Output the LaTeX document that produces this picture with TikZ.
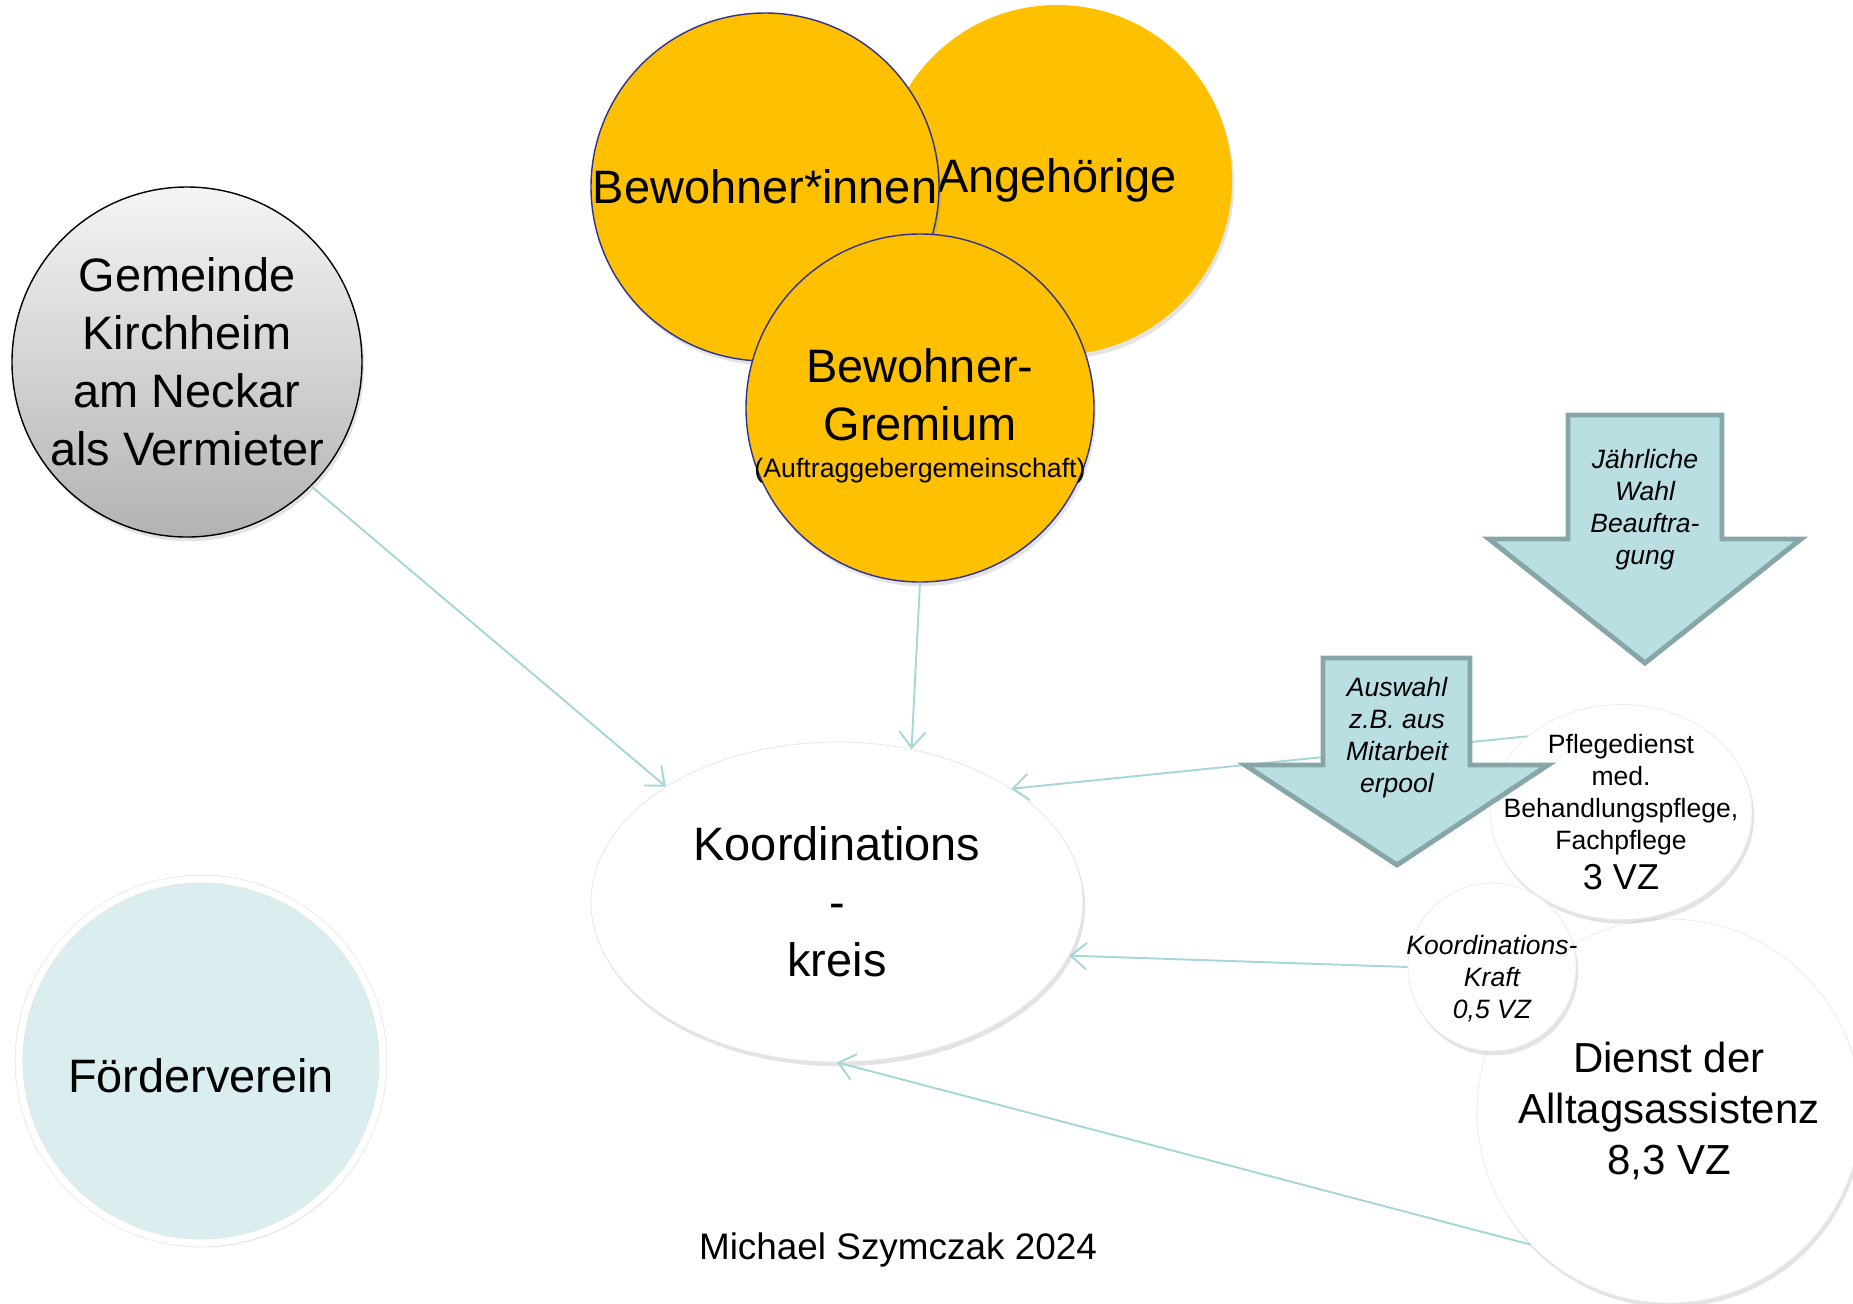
\documentclass[tikz,border=0pt]{standalone}
\usepackage{fontspec}
\setmainfont{Liberation Sans}
\usetikzlibrary{shapes.geometric,shadows,arrows.meta}

\definecolor{gold}{HTML}{FFC000}
\definecolor{navy}{HTML}{2E3192}
\definecolor{linkcol}{HTML}{A6D6DA}
\definecolor{pfeilfill}{HTML}{B9DFE2}
\definecolor{pfeilrand}{HTML}{87A6A8}
\definecolor{foerderfill}{HTML}{DAEDEF}

\begin{document}
\begin{tikzpicture}[
  every node/.style={align=center},
  rund/.style={circle,inner sep=0pt},
  schatten/.style={drop shadow={opacity=0.22,shadow xshift=1.2pt,shadow yshift=-2.4pt}},
  goldkreis/.style={rund,fill=gold,draw=navy,line width=0.8pt,schatten},
  weiss/.style={fill=white,draw=black!8,line width=0.4pt,schatten},
  gross/.style={font=\fontsize{26.7}{33}\selectfont},
  klein/.style={font=\fontsize{15.1}{18.2}\selectfont,inner sep=0pt},
  kursiv/.style={font=\fontsize{15.1}{18.2}\selectfont\itshape,inner sep=0pt},
  link/.style={draw=linkcol,line width=1.1pt,-{Straight Barb[length=9pt,width=15pt]}},
  pfeil/.style={fill=pfeilfill,draw=pfeilrand,line width=2.8pt,line join=miter}
  ]

  \useasboundingbox (0,0) rectangle (37.06,-26.06);

  % linke Seite
  \node[rund,draw=black,line width=0.8pt,top color=black!4,bottom color=black!30,
        minimum size=7cm,gross,schatten] (gemeinde) at (3.74,-7.24)
        {Gemeinde\\Kirchheim\\am Neckar\\als Vermieter};
  \node[rund,fill=foerderfill,draw=black!10,line width=0.4pt,double=white,double distance=4pt,
        minimum size=7.28cm,gross,schatten,text height=1.24cm,text depth=0pt] (foerder)
        at (4.02,-21.22) {Förderverein};

  % Bewohner oben
  \node[goldkreis,draw=none,minimum size=7cm,gross] (angeh) at (21.14,-3.6) {Angehörige};
  \node[goldkreis,minimum size=6.96cm,gross] (bewohner) at (15.3,-3.74) {Bewohner*innen};
  \node[goldkreis,minimum size=6.96cm] (gremium) at (18.4,-8.16) {};
  \node[gross,inner sep=0pt] (gremiumtxt) at ([yshift=-0.16cm]gremium)
        {Bewohner-\\Gremium\\[-11.7pt]{\fontsize{15.2}{18}\selectfont(Auftraggebergemeinschaft)}};

  % Mitte
  \node[ellipse,weiss,draw=black!10,minimum width=9.84cm,minimum height=6.4cm,
        inner sep=0pt,gross] (koord) at (16.74,-18.04) {Koordinations\\-\\kreis};

  % rechte Seite
  \node[rund,weiss,minimum size=7.68cm,font=\fontsize{23.9}{29}\selectfont] (dienst)
        at (33.38,-22.22) {Dienst der\\Alltagsassistenz\\8,3 VZ};
  \node[ellipse,weiss,minimum width=5.24cm,minimum height=4.3cm] (pflege) at (32.42,-16.24) {};
  \node[klein] (pflegetxt) at (pflege)
        {Pflegedienst\\med.\\Behandlungspflege,\\Fachpflege\\[4.7pt]{\fontsize{20.5}{24}\selectfont 3 VZ}};
  \node[rund,weiss,minimum size=3.36cm] (kraft) at (29.84,-19.34) {};
  \node[kursiv] (krafttxt) at ([yshift=-0.24cm]kraft) {Koordinations-\\Kraft\\0,5 VZ};

  \draw[link] (gemeinde.315) -- (koord.146);
  \draw[link] (gremium.south) -- (koord.64);
  \draw[link] (pflege.141) -- (koord.33);
  \draw[link] (kraft.west) -- (koord.-13);
  \draw[link] (dienst.224) -- (koord.south);

  % Pfeile
  \draw[pfeil] (31.36,-8.3) -- (34.44,-8.3) -- (34.44,-10.78) -- (36.02,-10.78)
        -- (32.9,-13.26) -- (29.78,-10.78) -- (31.36,-10.78) -- cycle;
  \node[kursiv] (wahl) at (32.9,-10.19) {Jährliche\\Wahl\\Beauftra-\\gung};

  \draw[pfeil] (26.46,-13.16) -- (29.4,-13.16) -- (29.4,-15.3) -- (30.96,-15.3)
        -- (27.94,-17.3) -- (24.9,-15.3) -- (26.46,-15.3) -- cycle;
  \node[kursiv] (auswahl) at (27.94,-14.76) {Auswahl\\z.B. aus\\Mitarbeit\\erpool};

  \node[font=\fontsize{21}{25}\selectfont] (autor) at (17.96,-25.0) {Michael Szymczak 2024};
\end{tikzpicture}
\end{document}
